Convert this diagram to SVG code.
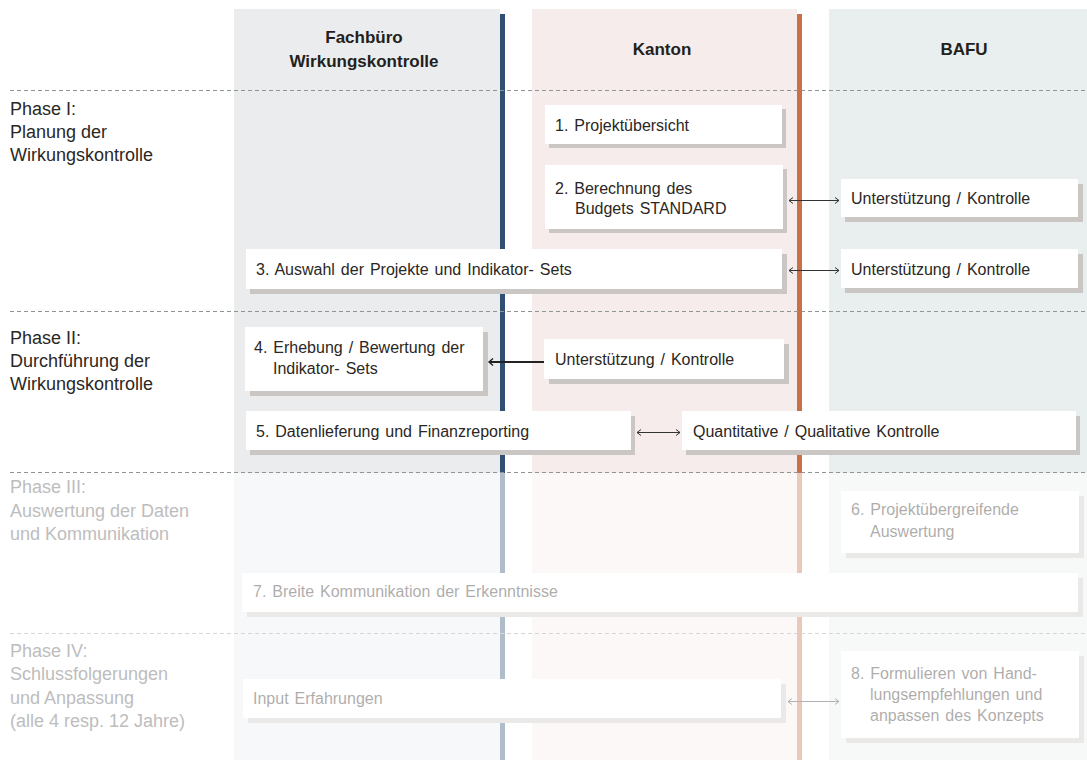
<svg xmlns="http://www.w3.org/2000/svg" width="1087" height="760" viewBox="0 0 1087 760">
<style>
text{font-family:"Liberation Sans",Arial,sans-serif;fill:#2b2724}
.hd{font-size:17px;font-weight:bold;text-anchor:middle;fill:#231f1c}
.ph{font-size:18px}
.bx{font-size:16px;word-spacing:1.5px}
.box{fill:#fff}
.sh{fill:#c9c6c3}
.dash{stroke:#8f9596;stroke-width:1;stroke-dasharray:4 3}
.thin{stroke:#333;stroke-width:1;fill:none}
.fd{fill:#bdbdbd}
</style>
<defs>
<marker id="ah" viewBox="-6 -4 8 8" markerWidth="8" markerHeight="8" refX="0" refY="0" orient="auto-start-reverse" markerUnits="userSpaceOnUse">
<path d="M-4,-3 L0,0 L-4,3" fill="none" stroke="#333" stroke-width="1"/>
</marker>
<marker id="ahb" viewBox="-6 -4 8 8" markerWidth="8" markerHeight="8" refX="0" refY="0" orient="auto-start-reverse" markerUnits="userSpaceOnUse">
<path d="M-4,-3.5 L0,0 L-4,3.5" fill="none" stroke="#222" stroke-width="1.4"/>
</marker>
</defs>
<rect width="1087" height="760" fill="#fff"/>
<g id="lanes">
<rect x="234" y="9" width="266" height="751" fill="#ebecee"/>
<rect x="532" y="9" width="265" height="751" fill="#f5eceb"/>
<rect x="829" y="9" width="258" height="751" fill="#e9eeee"/>
<rect x="500" y="14" width="5" height="746" fill="#2f4f73"/>
<rect x="797" y="14" width="5" height="746" fill="#c8704a"/>
<text class="hd" x="364" y="43">Fachbüro</text>
<text class="hd" x="364" y="67">Wirkungskontrolle</text>
<text class="hd" x="662" y="55">Kanton</text>
<text class="hd" x="964" y="55">BAFU</text>
</g>
<g id="phases">
<line class="dash" x1="10" y1="90.5" x2="1087" y2="90.5"/>
<line class="dash" x1="10" y1="311.5" x2="1087" y2="311.5"/>
<line class="dash" x1="10" y1="472.5" x2="1087" y2="472.5"/>
<line class="dash" x1="10" y1="633.5" x2="1087" y2="633.5"/>
<text class="ph" x="10" y="115">Phase I:</text>
<text class="ph" x="10" y="138">Planung der</text>
<text class="ph" x="10" y="161">Wirkungskontrolle</text>
<text class="ph" x="10" y="344">Phase II:</text>
<text class="ph" x="10" y="367">Durchführung der</text>
<text class="ph" x="10" y="390">Wirkungskontrolle</text>
</g>
<g id="n1"><rect class="sh" x="549" y="109" width="237" height="39"/><rect class="box" x="545" y="105" width="237" height="39"/><text class="bx" x="555" y="131">1. Projektübersicht</text></g>
<g id="n2"><rect class="sh" x="549" y="169" width="238" height="64"/><rect class="box" x="545" y="165" width="238" height="64"/><text class="bx" x="555" y="194">2. Berechnung des</text><text class="bx" x="575" y="214">Budgets STANDARD</text></g>
<g id="b2"><rect class="sh" x="845" y="184" width="238" height="38"/><rect class="box" x="841" y="179" width="237" height="38"/><text class="bx" x="851" y="204">Unterstützung / Kontrolle</text></g>
<g id="n3"><rect class="sh" x="250" y="254" width="537" height="40"/><rect class="box" x="246" y="249" width="536" height="40"/><text class="bx" x="256" y="275">3. Auswahl der Projekte und Indikator- Sets</text></g>
<g id="b3"><rect class="sh" x="845" y="254" width="238" height="39"/><rect class="box" x="841" y="249" width="237" height="39"/><text class="bx" x="851" y="275">Unterstützung / Kontrolle</text></g>
<g id="n4"><rect class="sh" x="250" y="332" width="238" height="64"/><rect class="box" x="245" y="327" width="238" height="64"/><text class="bx" x="254" y="353">4. Erhebung / Bewertung der</text><text class="bx" x="273" y="374">Indikator- Sets</text></g>
<g id="k4"><rect class="sh" x="549" y="344" width="240" height="40"/><rect class="box" x="544" y="339" width="240" height="40"/><text class="bx" x="555" y="365">Unterstützung / Kontrolle</text></g>
<g id="n5"><rect class="sh" x="250" y="416" width="385" height="39"/><rect class="box" x="246" y="411" width="385" height="39"/><text class="bx" x="256" y="437">5. Datenlieferung und Finanzreporting</text></g>
<g id="b5"><rect class="sh" x="686" y="416" width="394" height="39"/><rect class="box" x="682" y="411" width="394" height="39"/><text class="bx" x="693" y="437">Quantitative / Qualitative Kontrolle</text></g>
<g id="n6"><rect class="sh" x="846" y="496" width="238" height="62"/><rect class="box" x="841" y="491" width="238" height="62"/><text class="bx" x="851" y="515">6. Projektübergreifende</text><text class="bx" x="870" y="537">Auswertung</text></g>
<g id="n7"><rect class="sh" x="247" y="578" width="836" height="39"/><rect class="box" x="242" y="573" width="836" height="39"/><text class="bx" x="253" y="597">7. Breite Kommunikation der Erkenntnisse</text></g>
<g id="n8a"><rect class="sh" x="248" y="684" width="538" height="39"/><rect class="box" x="243" y="679" width="538" height="39"/><text class="bx" x="253" y="704">Input Erfahrungen</text></g>
<g id="n8"><rect class="sh" x="846" y="656" width="238" height="87"/><rect class="box" x="841" y="651" width="238" height="87"/><text class="bx" x="851" y="679">8. Formulieren von Hand-</text><text class="bx" x="870" y="700">lungsempfehlungen und</text><text class="bx" x="870" y="721">anpassen des Konzepts</text></g>
<g id="connectors">
<line class="thin" x1="789" y1="200.5" x2="839" y2="200.5" marker-start="url(#ah)" marker-end="url(#ah)"/>
<line class="thin" x1="789" y1="270.5" x2="839" y2="270.5" marker-start="url(#ah)" marker-end="url(#ah)"/>
<line x1="544" y1="362" x2="489" y2="362" stroke="#222" stroke-width="2" marker-end="url(#ahb)"/>
<line class="thin" x1="637" y1="432.5" x2="680" y2="432.5" marker-start="url(#ah)" marker-end="url(#ah)"/>
<line class="thin" x1="788" y1="701.5" x2="839" y2="701.5" marker-start="url(#ah)" marker-end="url(#ah)"/>
</g>
<rect x="0" y="473" width="1087" height="287" fill="#fff" opacity="0.62"/>
<g id="phases-faded">
<text class="ph fd" x="10" y="493">Phase III:</text>
<text class="ph fd" x="10" y="517">Auswertung der Daten</text>
<text class="ph fd" x="10" y="540">und Kommunikation</text>
<text class="ph fd" x="10" y="657">Phase IV:</text>
<text class="ph fd" x="10" y="680">Schlussfolgerungen</text>
<text class="ph fd" x="10" y="704">und Anpassung</text>
<text class="ph fd" x="10" y="727">(alle 4 resp. 12 Jahre)</text>
</g>
</svg>
